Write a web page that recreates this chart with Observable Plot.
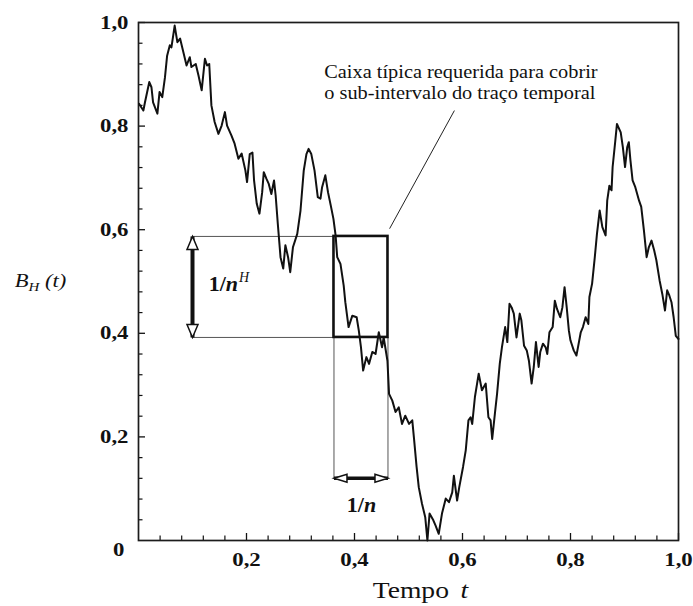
<!DOCTYPE html>
<html>
<head>
<meta charset="utf-8">
<script src="https://cdn.jsdelivr.net/npm/d3@7"></script>
<script src="https://cdn.jsdelivr.net/npm/@observablehq/plot@0.6"></script>
<style>
  html, body { margin: 0; padding: 0; background: #fff; }
  #chart svg { display: block; }
</style>
</head>
<body>
<div id="chart"></div>
<script>
// Sample path of fractional Brownian motion B_H(t) on [0, 1]
const times = [
  0.001, 0.009, 0.012, 0.020, 0.024, 0.027, 0.035, 0.039, 0.044, 0.049,
  0.053, 0.058, 0.061, 0.067, 0.069, 0.072, 0.077, 0.083, 0.089, 0.095,
  0.098, 0.106, 0.111, 0.117, 0.123, 0.127, 0.131, 0.135, 0.141, 0.148,
  0.154, 0.160, 0.164, 0.172, 0.178, 0.185, 0.191, 0.198, 0.201, 0.206,
  0.211, 0.214, 0.219, 0.224, 0.229, 0.232, 0.237, 0.241, 0.246, 0.251,
  0.254, 0.258, 0.263, 0.268, 0.272, 0.277, 0.281, 0.286, 0.294, 0.300,
  0.306, 0.311, 0.315, 0.320, 0.326, 0.332, 0.337, 0.340, 0.346, 0.351,
  0.356, 0.361, 0.365, 0.368, 0.374, 0.380, 0.383, 0.389, 0.396, 0.404,
  0.408, 0.412, 0.416, 0.422, 0.427, 0.433, 0.439, 0.445, 0.451, 0.454,
  0.461, 0.464, 0.470, 0.476, 0.482, 0.488, 0.494, 0.501, 0.507, 0.510,
  0.515, 0.519, 0.525, 0.531, 0.535, 0.539, 0.546, 0.550, 0.556, 0.562,
  0.569, 0.575, 0.581, 0.584, 0.590, 0.594, 0.601, 0.606, 0.611, 0.615,
  0.618, 0.623, 0.627, 0.630, 0.636, 0.643, 0.648, 0.652, 0.655, 0.660,
  0.664, 0.669, 0.673, 0.679, 0.683, 0.687, 0.691, 0.695, 0.700, 0.706,
  0.709, 0.714, 0.719, 0.723, 0.728, 0.732, 0.736, 0.741, 0.744, 0.749,
  0.754, 0.757, 0.761, 0.767, 0.771, 0.775, 0.781, 0.785, 0.789, 0.793,
  0.797, 0.800, 0.806, 0.811, 0.819, 0.823, 0.828, 0.833, 0.835, 0.840,
  0.845, 0.849, 0.854, 0.859, 0.865, 0.868, 0.872, 0.876, 0.878, 0.883,
  0.886, 0.893, 0.897, 0.901, 0.905, 0.908, 0.911, 0.915, 0.920, 0.927,
  0.931, 0.936, 0.941, 0.945, 0.950, 0.955, 0.959, 0.965, 0.970, 0.975,
  0.979, 0.983, 0.987, 0.991, 0.995, 1.000
];
const values = [
  0.843, 0.830, 0.846, 0.885, 0.875, 0.846, 0.824, 0.866, 0.856, 0.894,
  0.936, 0.956, 0.952, 0.994, 0.981, 0.962, 0.969, 0.943, 0.917, 0.933,
  0.914, 0.920, 0.898, 0.869, 0.930, 0.917, 0.920, 0.840, 0.808, 0.785,
  0.801, 0.827, 0.801, 0.782, 0.766, 0.737, 0.747, 0.714, 0.692, 0.746,
  0.749, 0.695, 0.650, 0.631, 0.672, 0.711, 0.698, 0.689, 0.669, 0.695,
  0.666, 0.611, 0.547, 0.525, 0.570, 0.547, 0.518, 0.566, 0.592, 0.637,
  0.714, 0.746, 0.756, 0.746, 0.714, 0.663, 0.660, 0.682, 0.705, 0.672,
  0.647, 0.621, 0.589, 0.547, 0.534, 0.492, 0.460, 0.412, 0.434, 0.431,
  0.405, 0.373, 0.328, 0.354, 0.341, 0.364, 0.360, 0.402, 0.373, 0.392,
  0.347, 0.283, 0.270, 0.248, 0.257, 0.225, 0.241, 0.225, 0.232, 0.199,
  0.142, 0.103, 0.071, 0.045, 0.000, 0.052, 0.039, 0.029, 0.013, 0.052,
  0.081, 0.074, 0.093, 0.125, 0.077, 0.103, 0.142, 0.174, 0.232, 0.238,
  0.225, 0.277, 0.303, 0.322, 0.290, 0.303, 0.238, 0.232, 0.196, 0.245,
  0.283, 0.341, 0.373, 0.412, 0.383, 0.457, 0.450, 0.438, 0.392, 0.438,
  0.425, 0.376, 0.367, 0.347, 0.303, 0.335, 0.383, 0.335, 0.364, 0.380,
  0.373, 0.360, 0.402, 0.412, 0.463, 0.447, 0.431, 0.450, 0.489, 0.450,
  0.405, 0.386, 0.367, 0.357, 0.402, 0.412, 0.431, 0.418, 0.470, 0.496,
  0.547, 0.592, 0.637, 0.605, 0.589, 0.656, 0.685, 0.676, 0.721, 0.772,
  0.804, 0.788, 0.759, 0.721, 0.759, 0.769, 0.734, 0.695, 0.682, 0.656,
  0.644, 0.598, 0.547, 0.566, 0.579, 0.560, 0.541, 0.502, 0.476, 0.444,
  0.483, 0.473, 0.460, 0.431, 0.395, 0.389
];

// Axis ticks
const majorTicks = [0.2, 0.4, 0.6, 0.8, 1.0];
const minorTicks = [0.04, 0.08, 0.12, 0.16, 0.24, 0.28, 0.32, 0.36, 0.44, 0.48,
                    0.52, 0.56, 0.64, 0.68, 0.72, 0.76, 0.84, 0.88, 0.92, 0.96];

// Covering box of side 1/n (time) by 1/n^H (amplitude), n = 10
const boxTime = [0.362, 0.462];
const boxLevel = [0.392, 0.587];

const noteLines = ["Caixa típica requerida para cobrir", "o sub-intervalo do traço temporal"];

const trace = times.map((t, i) => ({t, b: values[i]}));

const width = 693, height = 606;
const margin = {left: 138, right: 15, top: 22, bottom: 66};
const frameW = width - margin.left - margin.right;
const frameH = height - margin.top - margin.bottom;
// inward tick lengths, in pixels, converted to data units
const tickX = (px) => px / frameH;
const tickY = (px) => px / frameW;

const serif = "'Liberation Serif', 'Times New Roman', Times, serif";
const ink = "#111";
const fmt = (d) => d3.format(".1f")(d).replace(".", ",");

// Hollow arrowheads whose tip sits on the anchor point
const L = 13, w = 5.5;
const headUp    = {draw(c) { c.moveTo(0, 0); c.lineTo(-w, L); c.lineTo(w, L); c.closePath(); }};
const headDown  = {draw(c) { c.moveTo(0, 0); c.lineTo(-w, -L); c.lineTo(w, -L); c.closePath(); }};
const headLeft  = {draw(c) { c.moveTo(0, 0); c.lineTo(L, -4); c.lineTo(L, 4); c.closePath(); }};
const headRight = {draw(c) { c.moveTo(0, 0); c.lineTo(-L, -4); c.lineTo(-L, 4); c.closePath(); }};

const arrowTime = 0.1;   // position of the vertical 1/n^H arrow
const arrowLevel = 0.12; // position of the horizontal 1/n arrow

const plot = Plot.plot({
  width, height,
  marginLeft: margin.left, marginRight: margin.right,
  marginTop: margin.top, marginBottom: margin.bottom,
  x: {domain: [0, 1]},
  y: {domain: [0, 1]},
  style: {fontFamily: serif, color: ink, background: "#fff", overflow: "visible"},
  marks: [
    Plot.axisX({ticks: majorTicks, tickFormat: fmt, tickSize: 0, tickPadding: 12, label: null,
                fontSize: 19, fontWeight: "bold"}),
    Plot.axisY({ticks: majorTicks, tickFormat: fmt, tickSize: 0, tickPadding: 10, label: null,
                fontSize: 19, fontWeight: "bold"}),
    // inward ticks along the bottom and left edges
    Plot.ruleX(majorTicks, {x: (d) => d, y1: 0, y2: tickX(7), stroke: ink, strokeWidth: 1.3}),
    Plot.ruleX(minorTicks, {x: (d) => d, y1: 0, y2: tickX(4.5), stroke: ink, strokeWidth: 1.2}),
    Plot.ruleY(majorTicks, {y: (d) => d, x1: 0, x2: tickY(7), stroke: ink, strokeWidth: 1.3}),
    Plot.ruleY(minorTicks, {y: (d) => d, x1: 0, x2: tickY(4.5), stroke: ink, strokeWidth: 1.2}),
    Plot.frame({stroke: "#1c1c1c", strokeWidth: 1.7}),
    // thin guide lines projecting the box onto the two arrows
    Plot.ruleY(boxLevel, {y: (d) => d, x1: arrowTime, x2: boxTime[0], stroke: "#555", strokeWidth: 1}),
    Plot.ruleX(boxTime, {x: (d) => d, y1: arrowLevel, y2: boxLevel[0], stroke: "#555", strokeWidth: 1}),
    // the trace
    Plot.line(trace, {x: "t", y: "b", stroke: ink, strokeWidth: 2, strokeLinejoin: "round"}),
    // covering box
    Plot.rect([{}], {x1: boxTime[0], x2: boxTime[1], y1: boxLevel[0], y2: boxLevel[1],
                     fill: "none", stroke: ink, strokeWidth: 2.6}),
    // leader from the note to the box
    Plot.link([{}], {x1: 0.585, y1: 0.830, x2: 0.465, y2: 0.602, stroke: "#222", strokeWidth: 1}),
    // 1/n^H arrow
    Plot.link([{}], {x1: arrowTime, x2: arrowTime, y1: boxLevel[0], y2: boxLevel[1], stroke: ink, strokeWidth: 4}),
    Plot.dot([{}], {x: arrowTime, y: boxLevel[1], symbol: headUp, r: 5, fill: "#fff", stroke: ink, strokeWidth: 1.5}),
    Plot.dot([{}], {x: arrowTime, y: boxLevel[0], symbol: headDown, r: 5, fill: "#fff", stroke: ink, strokeWidth: 1.5}),
    // 1/n arrow
    Plot.link([{}], {x1: boxTime[0], x2: boxTime[1], y1: arrowLevel, y2: arrowLevel, stroke: ink, strokeWidth: 3.5}),
    Plot.dot([{}], {x: boxTime[0], y: arrowLevel, symbol: headLeft, r: 5, fill: "#fff", stroke: ink, strokeWidth: 1.5}),
    Plot.dot([{}], {x: boxTime[1], y: arrowLevel, symbol: headRight, r: 5, fill: "#fff", stroke: ink, strokeWidth: 1.5}),
    // labels
    Plot.text(["1/n^H"], {x: 0.13, y: 0.496, textAnchor: "start", fontSize: 22, fontWeight: "bold"}),
    Plot.text(["1/n"], {x: 0.413, y: 0.068, textAnchor: "middle", fontSize: 22, fontWeight: "bold"}),
    Plot.text([noteLines.join("\n")], {x: 0.344, y: 0.885, textAnchor: "start", lineAnchor: "middle",
                                       lineHeight: 1.14, fontSize: 18.5}),
    Plot.text(["0"], {x: 0, y: 0, textAnchor: "end", dx: -14, dy: 9, fontSize: 19, fontWeight: "bold"}),
    Plot.text(["B_H (t)"], {frameAnchor: "left", dx: -98, textAnchor: "middle", fontSize: 18, fontStyle: "italic"}),
    Plot.text(["Tempo t"], {frameAnchor: "bottom", dx: 12, dy: 57, textAnchor: "middle", fontSize: 23})
  ]
});

const svg = d3.select(plot);
const texts = () => svg.selectAll("text");

// rich text: sub/superscripts and italic variables
function rich(content, parts) {
  texts().filter(function () { return this.textContent === content; }).each(function () {
    const text = d3.select(this);
    text.text(null);
    for (const p of parts) {
      const ts = text.append("tspan").text(p.text);
      for (const [k, v] of Object.entries(p)) if (k !== "text") ts.attr(k, v);
    }
  });
}

// the axis lettering is set slightly expanded
function widen(test, sx) {
  texts().filter(function () { return test(this.textContent); }).each(function () {
    const t = this.getAttribute("transform") || "";
    this.setAttribute("transform", `${t} scale(${sx},1)`);
  });
}
widen((s) => /^\d(,\d)?$/.test(s), 1.2);
widen((s) => s === "B_H (t)", 1.25);
widen((s) => s === "Tempo t", 1.2);
widen((s) => s.startsWith("Caixa"), 1.1);

rich("1/n^H", [
  {text: "1/"},
  {text: "n", "font-style": "italic"},
  {text: "H", "font-style": "italic", "font-weight": "normal", "font-size": 14, dy: -9, dx: 1}
]);
rich("1/n", [
  {text: "1/"},
  {text: "n", "font-style": "italic"}
]);
rich("B_H (t)", [
  {text: "B"},
  {text: "H", "font-size": 12, dy: 4},
  {text: "\u00a0(t)", dy: -4}
]);
rich("Tempo t", [
  {text: "Tempo\u00a0"},
  {text: "t", "font-style": "italic", dx: 4}
]);

document.getElementById("chart").appendChild(plot);
</script>
</body>
</html>
